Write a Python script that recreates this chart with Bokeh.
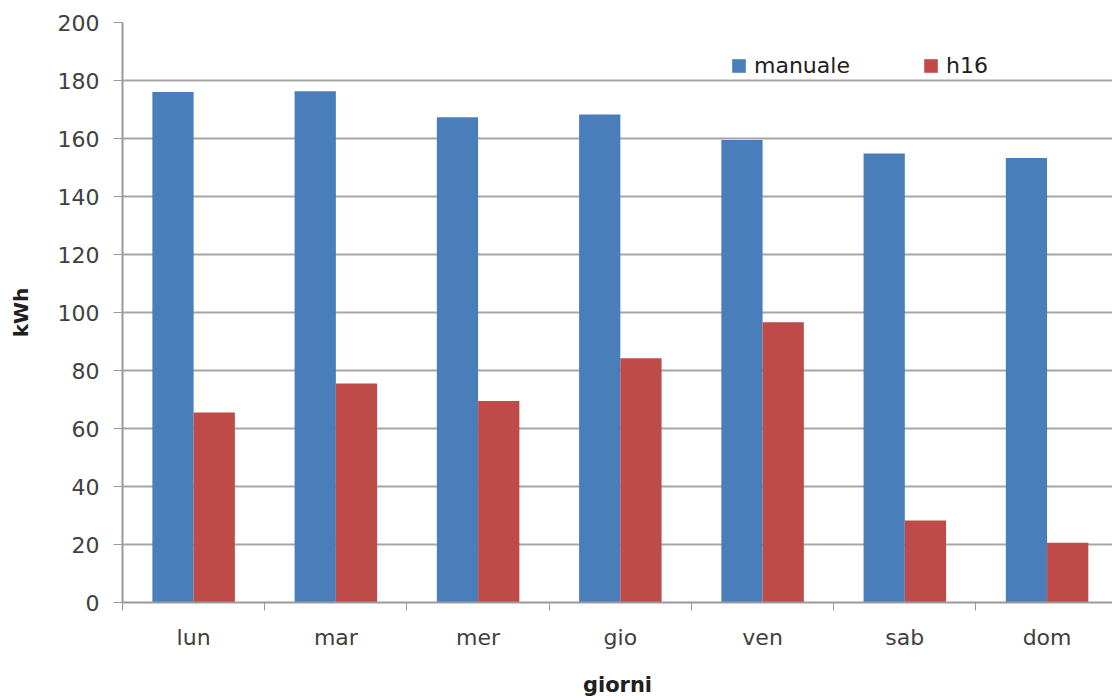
from bokeh.plotting import figure
from bokeh.models import ColumnDataSource, FixedTicker, Range1d, Legend, LegendItem
from bokeh.transform import dodge
from bokeh.embed import file_html
from bokeh.resources import INLINE

giorni = ["lun", "mar", "mer", "gio", "ven", "sab", "dom"]
manuale = [176, 176.3, 167.3, 168.3, 159.5, 154.8, 153.3]
h16 = [65.5, 75.5, 69.5, 84.2, 96.6, 28.3, 20.6]

pos = [i + 0.5 for i in range(len(giorni))]
src = ColumnDataSource(dict(x=pos, manuale=manuale, h16=h16))

FONT = "DejaVu Sans"
p = figure(width=1112, height=700, output_backend="svg", toolbar_location=None,
           x_range=Range1d(0, 6.96), y_range=Range1d(0, 200),
           min_border_left=122, min_border_top=22, min_border_right=0, min_border_bottom=98)
p.outline_line_color = None
p.background_fill_color = "white"
p.border_fill_color = "white"

bw = 0.29
r1 = p.vbar(x=dodge("x", -bw / 2), top="manuale", width=bw, source=src,
            fill_color="#4A7EBB", line_color=None)
r2 = p.vbar(x=dodge("x", bw / 2), top="h16", width=bw, source=src,
            fill_color="#BE4B48", line_color=None)

# x axis
p.xaxis.ticker = FixedTicker(ticks=pos, minor_ticks=list(range(0, 8)))
p.xaxis.major_label_overrides = {pos[i]: g for i, g in enumerate(giorni)}
p.xaxis.major_tick_line_color = None
p.xaxis.minor_tick_line_color = "#9a9a9a"
p.xaxis.minor_tick_out = 8
p.xaxis.minor_tick_in = 0
p.xaxis.axis_line_color = "#9a9a9a"
p.xaxis.axis_line_width = 2
p.xaxis.major_label_text_font = FONT
p.xaxis.major_label_text_font_size = "22px"
p.xaxis.major_label_text_color = "#404040"
p.xaxis.major_label_standoff = 14
p.xaxis.axis_label = "giorni"
p.xaxis.axis_label_text_font = FONT
p.xaxis.axis_label_text_font_size = "21px"
p.xaxis.axis_label_text_font_style = "bold"
p.xaxis.axis_label_text_color = "#202020"
p.xaxis.axis_label_standoff = 20

# y axis
p.yaxis.ticker = FixedTicker(ticks=list(range(0, 201, 20)))
p.yaxis.minor_tick_line_color = None
p.yaxis.major_tick_line_color = "#9a9a9a"
p.yaxis.major_tick_out = 9
p.yaxis.major_tick_in = 0
p.yaxis.axis_line_color = "#9a9a9a"
p.yaxis.axis_line_width = 2
p.yaxis.major_label_text_font = FONT
p.yaxis.major_label_text_font_size = "22px"
p.yaxis.major_label_text_color = "#404040"
p.yaxis.major_label_standoff = 14
p.yaxis.axis_label = "kWh"
p.yaxis.axis_label_text_font = FONT
p.yaxis.axis_label_text_font_size = "20px"
p.yaxis.axis_label_text_font_style = "bold"
p.yaxis.axis_label_text_color = "#202020"
p.yaxis.axis_label_standoff = 22

p.xgrid.grid_line_color = None
p.ygrid.grid_line_color = "#a6a6a6"
p.ygrid.grid_line_width = 2

legend = Legend(items=[LegendItem(label="manuale", renderers=[r1]),
                       LegendItem(label="h16", renderers=[r2])],
                location=(608, 524), orientation="horizontal")
legend.border_line_color = None
legend.background_fill_alpha = 0
legend.padding = 0
legend.margin = 0
legend.spacing = 72
legend.glyph_width = 17
legend.glyph_height = 17
legend.label_standoff = 7
legend.label_text_font = FONT
legend.label_text_font_size = "22px"
legend.label_text_color = "#202020"
p.add_layout(legend, "center")

open("out.html", "w").write(file_html(p, INLINE))
